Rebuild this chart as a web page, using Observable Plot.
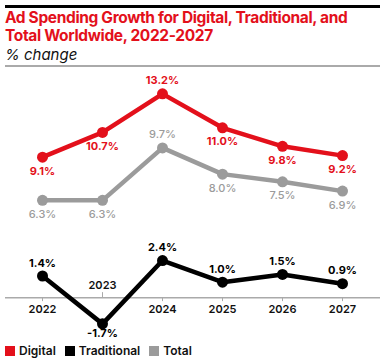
<!DOCTYPE html>
<html>
<head>
<meta charset="utf-8">
<script src="https://cdn.jsdelivr.net/npm/d3@7"></script>
<script src="https://cdn.jsdelivr.net/npm/@observablehq/plot@0.6"></script>
<style>
  html, body { margin: 0; padding: 0; background: #fff; font-family: Inter, "Noto Sans", sans-serif; }
  #wrap { width: 385px; height: 361px; position: relative; }
  #chart svg { display: block; }
  .title { position: absolute; left: 5px; top: 9px; width: 375px; font-size: 15.5px; line-height: 18px; font-weight: 700; color: #e3101b; letter-spacing: -0.35px; }
  .sub { position: absolute; left: 5px; top: 45px; line-height: 20px; font-size: 15px; font-style: italic; color: #111; }
  #legend { position: absolute; left: 5px; top: 344px; display: flex; font-size: 12px; font-weight: 600; color: #111; line-height: 14px; }
  .item { display: flex; align-items: center; margin-right: 9px; }
  .sw { width: 10px; height: 10px; margin-right: 4px; display: inline-block; }
</style>
</head>
<body>
<div id="wrap">
  <div id="chart"></div>
  <div class="title">Ad Spending Growth for Digital, Traditional, and Total Worldwide, 2022-2027</div>
  <div class="sub">% change</div>
  <div id="legend"></div>
</div>
<script>
const years = ["2022", "2023", "2024", "2025", "2026", "2027"];
const digital = [9.1, 10.7, 13.2, 11.0, 9.8, 9.2];
const traditional = [1.4, -1.7, 2.4, 1.0, 1.5, 0.9];
const total = [6.3, 6.3, 9.7, 8.0, 7.5, 6.9];
const seriesNames = ["Digital", "Traditional", "Total"];
const colors = ["#e3101b", "#000000", "#9b9b9b"];
// label placement: true = above the point
const digitalAbove = [false, false, true, false, false, false];
const traditionalAbove = [true, false, true, true, true, true];
const totalAbove = [false, false, true, false, false, false];

const rows = [];
[digital, traditional, total].forEach((vals, si) => {
  const above = [digitalAbove, traditionalAbove, totalAbove][si];
  vals.forEach((v, i) => rows.push({series: seriesNames[si], year: years[i], value: v, above: above[i]}));
});
const yearRows = years.map(y => ({year: y, up: y === "2023"}));

const fmt = v => v.toFixed(1) + "%";

// header rules (decoration above the plot area)
const headerRules = (index, scales, values, dims) => {
  const g = d3.create("svg:g");
  g.append("line").attr("x1", 5).attr("x2", dims.width - 5).attr("y1", 6.5).attr("y2", 6.5)
    .attr("stroke", "#000").attr("stroke-width", 3);
  g.append("line").attr("x1", 5).attr("x2", dims.width - 5).attr("y1", 66).attr("y2", 66)
    .attr("stroke", "#aaa").attr("stroke-width", 2);
  return g.node();
};

const marks = [
  headerRules,
  Plot.ruleY([0], {stroke: "#aaa", strokeWidth: 1.5, insetLeft: -37, insetRight: -38}),
  Plot.ruleX(yearRows.filter(d => !d.up), {x: "year", y1: 0, y2: 0, stroke: "#aaa", insetBottom: -4}),
  Plot.ruleX(yearRows.filter(d => d.up), {x: "year", y1: 0, y2: 0, stroke: "#aaa", insetTop: -5}),
  Plot.text(yearRows.filter(d => !d.up), {x: "year", y: 0, text: "year", dy: 12, fontSize: 11, fontWeight: 600, fill: "#111"}),
  Plot.text(yearRows.filter(d => d.up), {x: "year", y: 0, text: "year", dy: -12, fontSize: 11, fontWeight: 600, fill: "#111"})
];
seriesNames.forEach((name, si) => {
  const data = rows.filter(d => d.series === name);
  const c = colors[si];
  marks.push(Plot.line(data, {x: "year", y: "value", stroke: c, strokeWidth: 4.5, strokeLinejoin: "round"}));
  marks.push(Plot.dot(data, {x: "year", y: "value", fill: c, r: 5.5}));
  const w = name === "Total" ? 500 : 700;
  marks.push(Plot.text(data.filter(d => d.above), {x: "year", y: "value", text: d => fmt(d.value), dy: -13, fill: c, fontSize: 11, fontWeight: w}));
  marks.push(Plot.text(data.filter(d => !d.above), {x: "year", y: "value", text: d => fmt(d.value), dy: name === "Traditional" ? 10 : 14, fill: c, fontSize: 11, fontWeight: w}));
});

const chart = Plot.plot({
  width: 385,
  height: 330,
  marginLeft: 42,
  marginRight: 43,
  marginTop: 81,
  marginBottom: 2,
  x: {type: "point", domain: years, axis: null, padding: 0},
  y: {domain: [-2, 14], axis: null},
  style: {fontFamily: "Inter, 'Noto Sans', sans-serif", overflow: "visible"},
  marks
});
document.getElementById("chart").appendChild(chart);

const legend = document.getElementById("legend");
seriesNames.forEach((n, i) => {
  const it = document.createElement("div");
  it.className = "item";
  it.innerHTML = `<span class="sw" style="background:${colors[i]}"></span><span>${n}</span>`;
  legend.appendChild(it);
});
</script>
</body>
</html>
